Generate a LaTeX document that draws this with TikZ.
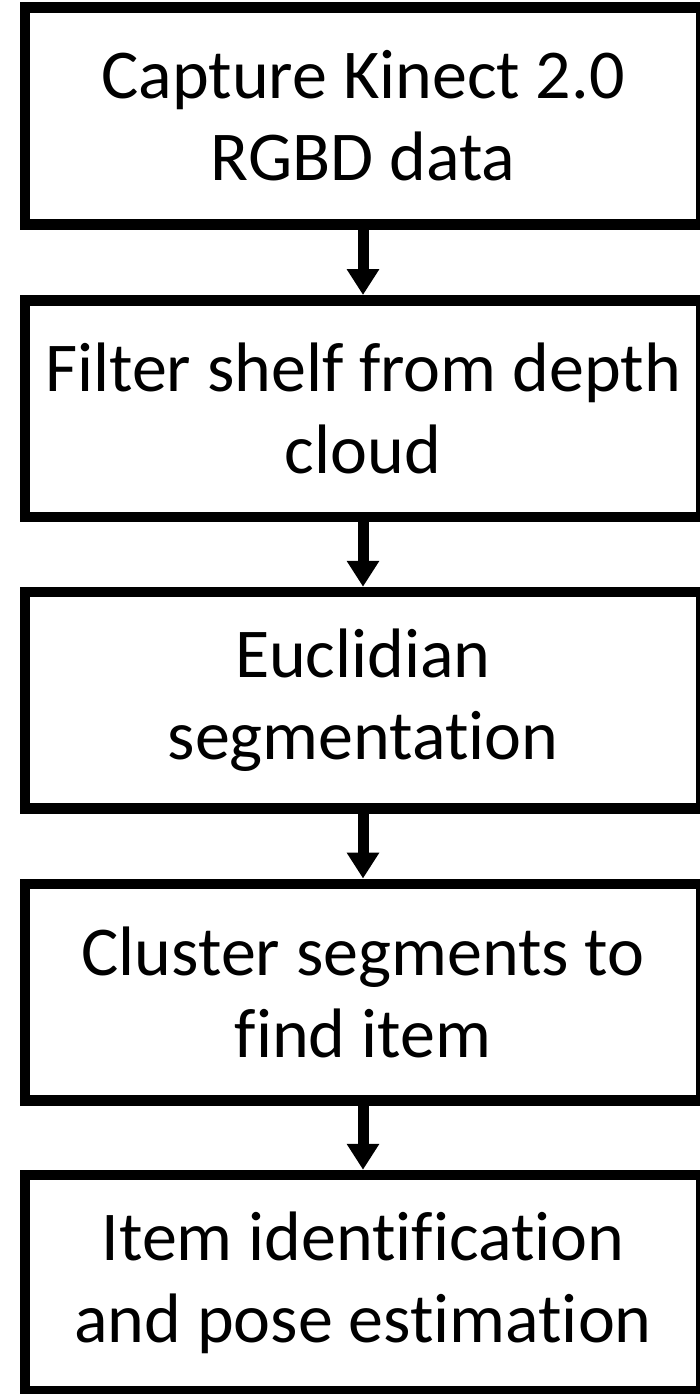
\documentclass[tikz,border=0pt]{standalone}
\usepackage{fontspec}
\setmainfont{Carlito}[Ligatures={NoCommon}]
\usetikzlibrary{arrows.meta}
\tikzset{
  stepbox/.style={draw=black, line width=10.5pt, rectangle, minimum width=676pt, minimum height=216.5pt, inner sep=0pt, outer sep=0pt, align=center, font=\fontsize{70}{82}\selectfont},
  flow/.style={line width=11pt, -{Triangle[width=31pt,length=26pt]}, shorten >=5.25pt}
}
\begin{document}
\begin{tikzpicture}[x=1pt,y=1pt]
\useasboundingbox (0,0) rectangle (700,-1394);
\node[stepbox] (n1) at (363,-116) {Capture Kinect 2.0\\RGBD data};
\node[stepbox] (n2) at (363,-408.5) {Filter shelf from depth\\cloud};
\node[stepbox] (n3) at (363,-700.25) {Euclidian\\segmentation};
\node[stepbox] (n4) at (363,-992) {Cluster segments to\\find item};
\node[stepbox] (n5) at (363,-1283.25) {Item identification\\and pose estimation};
\draw[flow] (n1.south) -- (n2.north);
\draw[flow] (n2.south) -- (n3.north);
\draw[flow] (n3.south) -- (n4.north);
\draw[flow] (n4.south) -- (n5.north);
\end{tikzpicture}
\end{document}
